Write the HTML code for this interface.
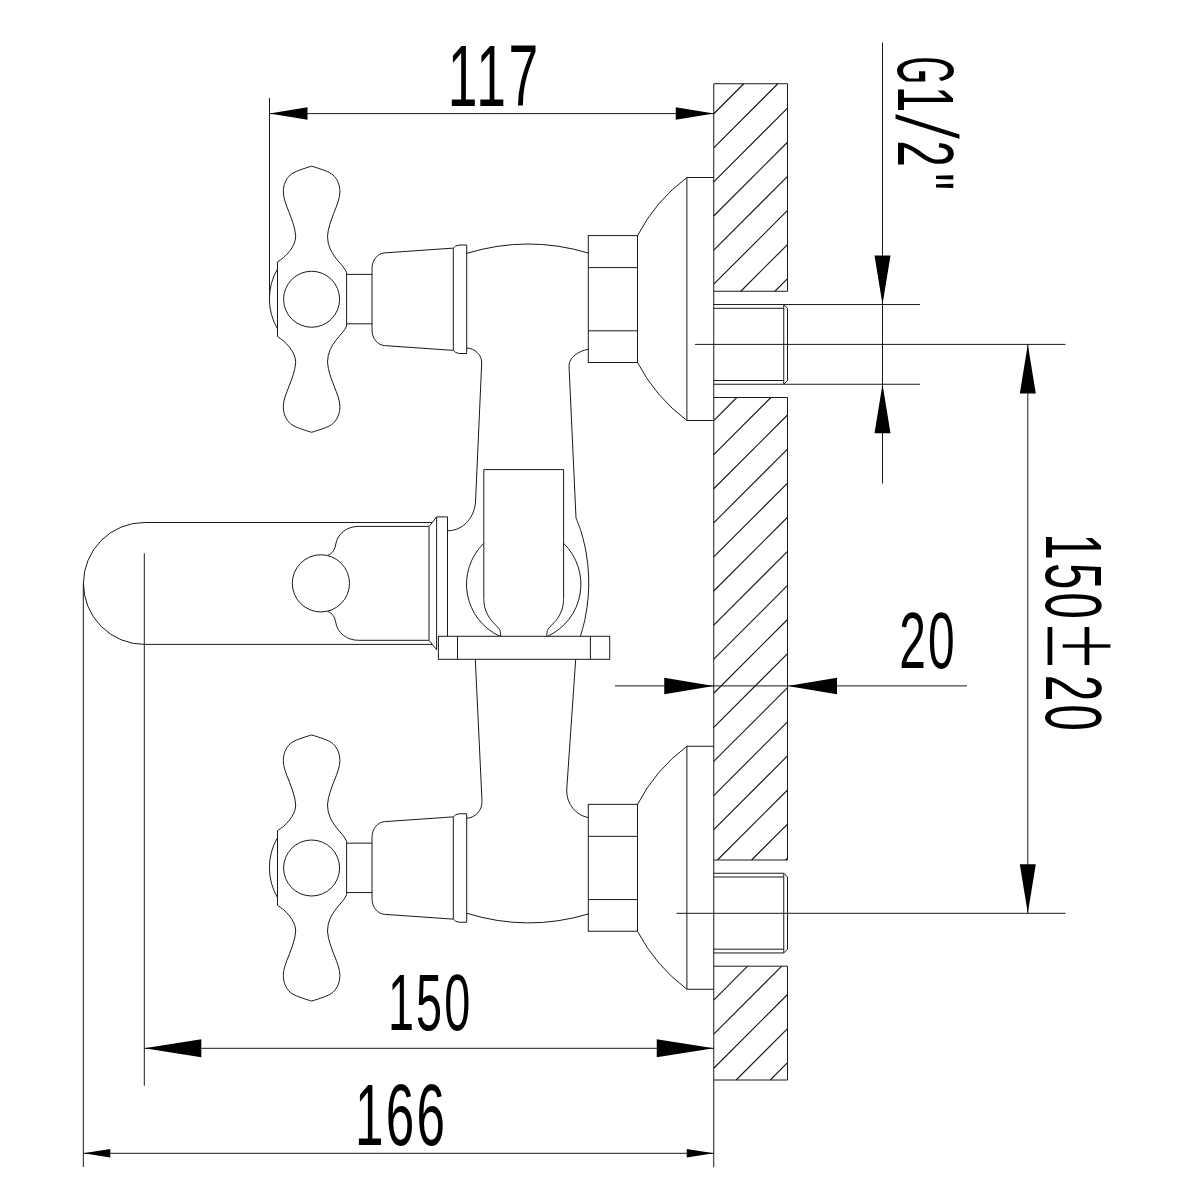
<!DOCTYPE html>
<html lang="en">
<head>
<meta charset="utf-8">
<title>Mixer tap dimensional drawing</title>
<style>
html,body{margin:0;padding:0;background:#fff;}
body{width:1200px;height:1200px;overflow:hidden;}
svg{display:block;}
svg .g line, svg .g path, svg .g rect, svg .g circle{fill:none;stroke:#1a1a1a;stroke-width:1.0;stroke-linecap:butt;stroke-linejoin:miter;}
svg .g .h{stroke-width:1.15;}
svg .g .ar{fill:#000;stroke:none;}
svg text{font-family:"Liberation Sans",sans-serif;fill:#000;}
</style>
</head>
<body>
<svg width="1200" height="1200" viewBox="0 0 1200 1200">
<desc>Side view of a two-handle wall-mounted mixer tap with dimensions: 117, 150, 166, 20, G1/2", 150±20.</desc>
<rect x="0" y="0" width="1200" height="1200" fill="#ffffff"/>
<g class="g">
<line x1="713.75" y1="83.75" x2="713.75" y2="1167.3"/>
<path d="M713.75 83.75 H787.5 V291.25 H713.75"/>
<path d="M713.75 397.5 H787.5 V860 H713.75"/>
<path d="M713.75 966.2 H787.5 V1080 H713.75"/>
<line x1="713.75" y1="113.75" x2="743.75" y2="83.75" class="h"/>
<line x1="713.75" y1="147.84" x2="777.84" y2="83.75" class="h"/>
<line x1="713.75" y1="181.93" x2="787.5" y2="108.18" class="h"/>
<line x1="713.75" y1="216.02" x2="787.5" y2="142.27" class="h"/>
<line x1="713.75" y1="250.11" x2="787.5" y2="176.36" class="h"/>
<line x1="713.75" y1="284.2" x2="787.5" y2="210.45" class="h"/>
<line x1="740.79" y1="291.25" x2="787.5" y2="244.54" class="h"/>
<line x1="774.88" y1="291.25" x2="787.5" y2="278.63" class="h"/>
<line x1="713.75" y1="420.56" x2="736.81" y2="397.5" class="h"/>
<line x1="713.75" y1="454.65" x2="770.9" y2="397.5" class="h"/>
<line x1="713.75" y1="488.74" x2="787.5" y2="414.99" class="h"/>
<line x1="713.75" y1="522.83" x2="787.5" y2="449.08" class="h"/>
<line x1="713.75" y1="556.92" x2="787.5" y2="483.17" class="h"/>
<line x1="713.75" y1="591.01" x2="787.5" y2="517.26" class="h"/>
<line x1="713.75" y1="625.1" x2="787.5" y2="551.35" class="h"/>
<line x1="713.75" y1="659.19" x2="787.5" y2="585.44" class="h"/>
<line x1="713.75" y1="693.28" x2="787.5" y2="619.53" class="h"/>
<line x1="713.75" y1="727.37" x2="787.5" y2="653.62" class="h"/>
<line x1="713.75" y1="761.46" x2="787.5" y2="687.71" class="h"/>
<line x1="713.75" y1="795.55" x2="787.5" y2="721.8" class="h"/>
<line x1="713.75" y1="829.64" x2="787.5" y2="755.89" class="h"/>
<line x1="717.48" y1="860" x2="787.5" y2="789.98" class="h"/>
<line x1="751.57" y1="860" x2="787.5" y2="824.07" class="h"/>
<line x1="785.66" y1="860" x2="787.5" y2="858.16" class="h"/>
<line x1="713.75" y1="1000.09" x2="747.64" y2="966.2" class="h"/>
<line x1="713.75" y1="1034.18" x2="781.73" y2="966.2" class="h"/>
<line x1="713.75" y1="1068.27" x2="787.5" y2="994.52" class="h"/>
<line x1="736.11" y1="1080" x2="787.5" y2="1028.61" class="h"/>
<line x1="770.2" y1="1080" x2="787.5" y2="1062.7" class="h"/>
<path d="M346.6 272.5 C343.6 264 327.5 255 327.5 236.25 C328.5 220 339.9 204 339.9 192 C339.9 185 337.4 179.1 333 175 C329.3 171.6 319.6 168.6 311.6 166.2"/>
<path d="M277.5 261.9 C285 257.5 295.7 247 295.7 236.25 C294.7 220 283.3 204 283.3 192 C283.3 185 285.8 179.1 290.2 175 C293.9 171.6 303.6 168.6 311.6 166.2"/>
<path d="M346.6 326 C343.6 334.5 327.5 343.5 327.5 362.25 C328.5 378.5 339.9 394.5 339.9 406.5 C339.9 413.5 337.4 419.4 333 423.5 C329.3 426.9 319.6 429.9 311.6 432.3"/>
<path d="M277.5 336.6 C285 341 295.7 351.5 295.7 362.25 C294.7 378.5 283.3 394.5 283.3 406.5 C283.3 413.5 285.8 419.4 290.2 423.5 C293.9 426.9 303.6 429.9 311.6 432.3"/>
<line x1="277.5" y1="261.9" x2="277.5" y2="336.6"/>
<line x1="346.6" y1="272.5" x2="346.6" y2="326"/>
<path d="M277.5 268.9 A59.61 59.61 0 0 0 277.5 328.9"/>
<circle cx="311.6" cy="299.25" r="28"/>
<line x1="346.6" y1="274.4" x2="372" y2="274.4"/>
<line x1="346.6" y1="323.8" x2="372" y2="323.8"/>
<path d="M453.3 248.1 L384.7 252.9 C377.7 253.3 372 259.9 372 268.7 V329.8 C372 338.6 377.7 345.2 384.7 345.6 L453.3 350.4"/>
<path d="M453.3 248.3 Q455 245.4 459.3 245 H466.7 V353.5 H459.3 Q455 353.1 453.3 350.2 Z"/>
<rect x="588.3" y="235.6" width="49.2" height="126.9"/>
<line x1="588.3" y1="267.6" x2="637.5" y2="267.6"/>
<line x1="588.3" y1="330.8" x2="637.5" y2="330.8"/>
<path d="M637.5 235.6 A171.4 171.4 0 0 1 686.9 177.5"/>
<path d="M637.5 362.5 A172.33 172.33 0 0 0 686.9 420.5"/>
<path d="M713.75 177.5 H686.9 V420.5 H713.75"/>
<path d="M346.6 841.25 C343.6 832.75 327.5 823.75 327.5 805 C328.5 788.75 339.9 772.75 339.9 760.75 C339.9 753.75 337.4 747.85 333 743.75 C329.3 740.35 319.6 737.35 311.6 734.95"/>
<path d="M277.5 830.65 C285 826.25 295.7 815.75 295.7 805 C294.7 788.75 283.3 772.75 283.3 760.75 C283.3 753.75 285.8 747.85 290.2 743.75 C293.9 740.35 303.6 737.35 311.6 734.95"/>
<path d="M346.6 894.75 C343.6 903.25 327.5 912.25 327.5 931 C328.5 947.25 339.9 963.25 339.9 975.25 C339.9 982.25 337.4 988.15 333 992.25 C329.3 995.65 319.6 998.65 311.6 1001.05"/>
<path d="M277.5 905.35 C285 909.75 295.7 920.25 295.7 931 C294.7 947.25 283.3 963.25 283.3 975.25 C283.3 982.25 285.8 988.15 290.2 992.25 C293.9 995.65 303.6 998.65 311.6 1001.05"/>
<line x1="277.5" y1="830.65" x2="277.5" y2="905.35"/>
<line x1="346.6" y1="841.25" x2="346.6" y2="894.75"/>
<path d="M277.5 837.65 A59.61 59.61 0 0 0 277.5 897.65"/>
<circle cx="311.6" cy="868" r="28"/>
<line x1="346.6" y1="843.15" x2="372" y2="843.15"/>
<line x1="346.6" y1="892.55" x2="372" y2="892.55"/>
<path d="M453.3 816.85 L384.7 821.65 C377.7 822.05 372 828.65 372 837.45 V898.55 C372 907.35 377.7 913.95 384.7 914.35 L453.3 919.15"/>
<path d="M453.3 817.05 Q455 814.15 459.3 813.75 H466.7 V922.25 H459.3 Q455 921.85 453.3 918.95 Z"/>
<rect x="588.3" y="804.35" width="49.2" height="126.9"/>
<line x1="588.3" y1="836.35" x2="637.5" y2="836.35"/>
<line x1="588.3" y1="899.55" x2="637.5" y2="899.55"/>
<path d="M637.5 804.35 A171.4 171.4 0 0 1 686.9 746.25"/>
<path d="M637.5 931.25 A172.33 172.33 0 0 0 686.9 989.25"/>
<path d="M713.75 746.25 H686.9 V989.25 H713.75"/>
<path d="M466.7 253.4 Q527.6 234.8 588.3 253"/>
<path d="M466.7 348 C474.5 348.4 481.9 354.5 481.7 363 L475.6 500 C475.2 517 463.5 530.7 448 530.7"/>
<path d="M588.3 349.3 C578.5 350.8 569.2 357.5 569 365.5 L576 518"/>
<path d="M466.7 913.2 Q527.4 932.2 588.3 914"/>
<path d="M466.7 818.3 C475 817.7 482.3 811 482 801 L475.3 659.3"/>
<path d="M588.3 817.6 C576.5 815.5 566.4 804.5 566.7 790 L575.7 659.3"/>
<path d="M576 518 C576.92 520.5 579.8 527.17 581.5 533 C583.2 538.83 585.02 546 586.2 553 C587.38 560 588.27 567.67 588.6 575 C588.93 582.33 588.77 589.83 588.2 597 C587.63 604.17 586.48 611.45 585.2 618 C583.92 624.55 581.28 633.25 580.5 636.3"/>
<path d="M483.8 598.3 V469.6 H563.6 V598.3"/>
<path d="M483.8 598.3 C483.87 599.25 483.9 602.05 484.2 604 C484.5 605.95 484.68 607.62 485.6 610 C486.52 612.38 487.92 615.68 489.7 618.3 C491.48 620.92 494.6 623.7 496.3 625.7 C498 627.7 499.17 628.53 499.9 630.3 C500.63 632.07 500.57 635.3 500.7 636.3"/>
<path d="M563.6 598.3 C563.53 599.25 563.5 602.05 563.2 604 C562.9 605.95 562.72 607.62 561.8 610 C560.88 612.38 559.48 615.68 557.7 618.3 C555.92 620.92 552.8 623.7 551.1 625.7 C549.4 627.7 548.23 628.53 547.5 630.3 C546.77 632.07 546.83 635.3 546.7 636.3"/>
<path d="M483.8 543.3 A57.2 57.2 0 0 0 499.9 636.3"/>
<path d="M563.6 543.3 A57.2 57.2 0 0 1 547.5 636.3"/>
<rect x="438.4" y="636.3" width="171.3" height="23"/>
<line x1="457.5" y1="636.3" x2="457.5" y2="659.3"/>
<line x1="590.4" y1="636.3" x2="590.4" y2="659.3"/>
<path d="M432.1 522.5 H144.4 A60.95 60.95 0 0 0 144.4 644.4 H432.1"/>
<path d="M429 526.4 H358.5 C346.5 526.4 337.5 534 335.8 544 C335 549.5 332.5 553.5 327.5 555.5"/>
<path d="M429 640.3 H358.5 C346.5 640.3 337.5 632.7 335.8 622.7 C335 617.2 332.5 613.2 327.5 611.2"/>
<circle cx="320.9" cy="583.35" r="28.6"/>
<path d="M436.6 516.9 L429 526.6 V640.3 L436.6 649.7"/>
<path d="M436.6 649.7 V516.9 H447.5 V636.3"/>
<path d="M713.75 304.55 H783.75 L787.5 308.3 V380.5 L783.75 384.25 H713.75"/>
<line x1="713.75" y1="308.3" x2="783.75" y2="308.3"/>
<line x1="713.75" y1="380.5" x2="783.75" y2="380.5"/>
<line x1="783.75" y1="304.55" x2="783.75" y2="384.25"/>
<line x1="783.75" y1="304.55" x2="920" y2="304.55"/>
<line x1="783.75" y1="384.25" x2="920" y2="384.25"/>
<path d="M713.75 873.25 H783.75 L787.5 877 V949.2 L783.75 952.95 H713.75"/>
<line x1="713.75" y1="877" x2="783.75" y2="877"/>
<line x1="713.75" y1="949.2" x2="783.75" y2="949.2"/>
<line x1="783.75" y1="873.25" x2="783.75" y2="952.95"/>
<line x1="695" y1="344.4" x2="1065.5" y2="344.4"/>
<line x1="676.5" y1="913.3" x2="1065.5" y2="913.3"/>
<line x1="269.5" y1="98" x2="269.5" y2="299"/>
<line x1="269.5" y1="113.6" x2="713.75" y2="113.6"/>
<polygon class="ar" points="269.5,113.6 307.5,107.35 307.5,119.85"/>
<polygon class="ar" points="713.75,113.6 675.75,119.85 675.75,107.35"/>
<line x1="144.3" y1="553.3" x2="144.3" y2="1085.7"/>
<line x1="144.3" y1="1048.3" x2="713.75" y2="1048.3"/>
<polygon class="ar" points="144.3,1048.3 201.3,1039.3 201.3,1057.3"/>
<polygon class="ar" points="713.75,1048.3 656.75,1057.3 656.75,1039.3"/>
<line x1="83.3" y1="583.3" x2="83.3" y2="1167"/>
<line x1="83.3" y1="1153.3" x2="713.75" y2="1153.3"/>
<polygon class="ar" points="83.3,1153.3 110.3,1149.05 110.3,1157.55"/>
<polygon class="ar" points="713.75,1153.3 686.75,1157.55 686.75,1149.05"/>
<line x1="615" y1="685.9" x2="967" y2="685.9"/>
<polygon class="ar" points="713.75,685.9 664.25,694.15 664.25,677.65"/>
<polygon class="ar" points="787.5,685.9 837,677.65 837,694.15"/>
<line x1="882.5" y1="42.5" x2="882.5" y2="483.5"/>
<polygon class="ar" points="882.5,304.5 874.5,255.5 890.5,255.5"/>
<polygon class="ar" points="882.5,384.3 890.5,433.3 874.5,433.3"/>
<line x1="1027.8" y1="344.4" x2="1027.8" y2="913.3"/>
<polygon class="ar" points="1027.8,344.4 1035.8,393.4 1019.8,393.4"/>
<polygon class="ar" points="1027.8,913.3 1019.8,864.3 1035.8,864.3"/>
</g>
<g class="t">
<text transform="translate(447.85 105.6) scale(0.614 1)" font-size="86.9" letter-spacing="4.2" text-anchor="start">117</text>
<text transform="translate(387.9 1030.1) scale(0.582 1)" font-size="80.5" letter-spacing="3.6" text-anchor="start">150</text>
<text transform="translate(354.9 1145.2) scale(0.592 1)" font-size="86.5" letter-spacing="3.9" text-anchor="start">166</text>
<text transform="translate(899.2 667.6) scale(0.597 1)" font-size="80.3" letter-spacing="3.6" text-anchor="start">20</text>
<text transform="translate(897.5 56.5) rotate(90) scale(0.59 1)" font-size="80" letter-spacing="4" text-anchor="start"><tspan textLength="50" lengthAdjust="spacingAndGlyphs">G</tspan>1<tspan font-size="90" textLength="58" lengthAdjust="spacingAndGlyphs" dx="-5" dy="2" stroke="#fff" stroke-width="3">/</tspan><tspan dx="-9" dy="-2">2</tspan><tspan dx="7">"</tspan></text>
<text transform="translate(1046 533.5) rotate(90) scale(0.59 1)" font-size="80" letter-spacing="5.5" text-anchor="start">150<tspan font-size="112" dx="2" textLength="84" lengthAdjust="spacingAndGlyphs" stroke="#fff" stroke-width="3">±</tspan><tspan dx="4">20</tspan></text>
</g>
</svg>
</body>
</html>
